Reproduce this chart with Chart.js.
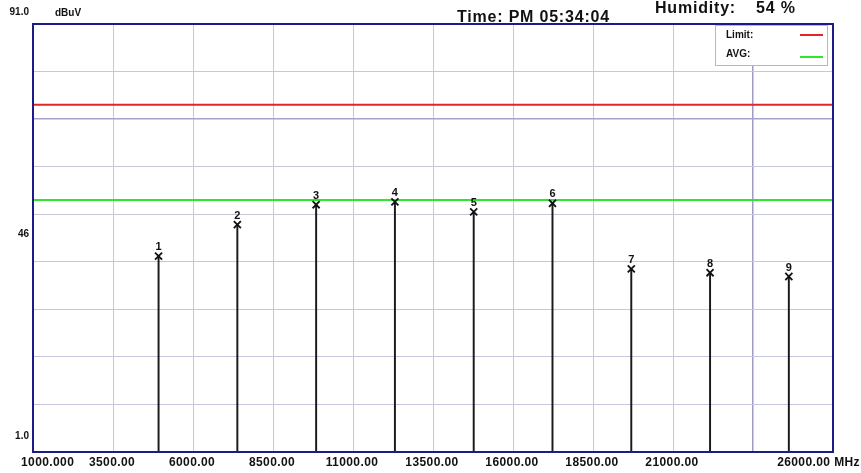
<!DOCTYPE html>
<html>
<head>
<meta charset="utf-8">
<script src="https://cdn.jsdelivr.net/npm/chart.js@4/dist/chart.umd.min.js"></script>
<style>
  html, body { margin: 0; padding: 0; background: #ffffff; }
  canvas { display: block; }
</style>
</head>
<body>
<canvas id="scan" width="861" height="473"></canvas>
<script>
// Emission scan: harmonic peaks, level in dBuV versus frequency in MHz
const markerNumbers = ['1', '2', '3', '4', '5', '6', '7', '8', '9'];
const markerFreqs = [4924, 7386, 9848, 12310, 14772, 17234, 19696, 22158, 24620];
const markerLevels = [42.2, 48.8, 53.0, 53.6, 51.5, 53.3, 39.5, 38.7, 37.9];

const limitLevel = 74;
const avgLevel = 54;

const freqMin = 1000;
const freqMax = 26000;
const freqStep = 2500;
const levelMin = 1;
const levelMax = 91;
const levelStep = 10;

const xTickValues = [1000, 3500, 6000, 8500, 11000, 13500, 16000, 18500, 21000, 23500, 26000];
const xTickLabels = ['1000.000', '3500.00', '6000.00', '8500.00', '11000.00', '13500.00',
                     '16000.00', '18500.00', '21000.00', '', '26000.00 MHz'];
const yTickValues = [91, 46, 1];
const yTickLabels = ['91.0', '46', '1.0'];

const unitLabel = 'dBuV';
const timeText = 'Time: PM 05:34:04';
const humidityLabel = 'Humidity:';
const humidityValue = '54 %';

const FONT = '"Liberation Sans", Arial, sans-serif';

const overlay = {
  id: 'scanOverlay',
  afterDatasetsDraw(chart) {
    const ctx = chart.ctx;
    const a = chart.chartArea;
    const xs = chart.scales.x;
    const ys = chart.scales.y;
    ctx.save();

    // plot frame
    ctx.strokeStyle = '#1c1c86';
    ctx.lineWidth = 2;
    ctx.strokeRect(a.left, a.top, a.right - a.left, a.bottom - a.top);

    // marker numbers above each peak
    const meta = chart.getDatasetMeta(3);
    ctx.fillStyle = '#111111';
    ctx.font = 'bold 11px ' + FONT;
    ctx.textAlign = 'center';
    ctx.textBaseline = 'alphabetic';
    meta.data.forEach((pt, i) => {
      ctx.fillText(markerNumbers[i], pt.x, pt.y - 6);
    });

    // legend box in the upper right corner
    const lx = a.right - 118, ly = a.top + 1, lw = 112, lh = 40;
    ctx.fillStyle = '#ffffff';
    ctx.fillRect(lx, ly, lw, lh);
    ctx.strokeStyle = '#b4b4d4';
    ctx.lineWidth = 1;
    ctx.strokeRect(lx + 0.5, ly + 0.5, lw, lh);
    ctx.font = 'bold 10px ' + FONT;
    ctx.textAlign = 'left';
    ctx.textBaseline = 'middle';
    const legendRows = [chart.data.datasets[0], chart.data.datasets[1]];
    legendRows.forEach((ds, i) => {
      const ry = ly + 10 + i * 19;
      ctx.fillStyle = '#111111';
      ctx.fillText(ds.label, lx + 11, ry);
      ctx.strokeStyle = ds.borderColor;
      ctx.lineWidth = 2;
      ctx.beginPath();
      ctx.moveTo(lx + 85, ry + i * 3);
      ctx.lineTo(lx + 108, ry + i * 3);
      ctx.stroke();
    });

    // frequency labels under the axis
    ctx.fillStyle = '#111111';
    ctx.font = 'bold 12px ' + FONT;
    ctx.letterSpacing = '0.4px';
    ctx.textBaseline = 'middle';
    xTickValues.forEach((v, i) => {
      const label = xTickLabels[i];
      if (!label) return;
      let px = xs.getPixelForValue(v);
      if (i === 0) {
        ctx.textAlign = 'left';
        px -= 12;
      } else if (i === xTickValues.length - 1) {
        ctx.textAlign = 'right';
        px = chart.width - 1;
      } else {
        ctx.textAlign = 'center';
        px -= 1;
      }
      ctx.fillText(label, px, a.bottom + 11);
    });

    // level labels on the left
    ctx.font = 'bold 10px ' + FONT;
    ctx.letterSpacing = '0px';
    ctx.textAlign = 'right';
    const yOffsets = [-12, -4, -16];
    yTickValues.forEach((v, i) => {
      ctx.fillText(yTickLabels[i], 29, ys.getPixelForValue(v) + yOffsets[i]);
    });
    ctx.textAlign = 'left';
    ctx.fillText(unitLabel, 55, 13);

    // header readouts
    ctx.font = 'bold 16px ' + FONT;
    ctx.letterSpacing = '0.8px';
    ctx.textBaseline = 'alphabetic';
    ctx.fillText(timeText, 457, 22);
    ctx.fillText(humidityLabel, 655, 13);
    ctx.fillText(humidityValue, 756, 13);

    ctx.restore();
  }
};

const stemData = markerFreqs.map((f, i) => ({ x: f, y: [levelMin, markerLevels[i]] }));
const peakData = markerFreqs.map((f, i) => ({ x: f, y: markerLevels[i] }));

new Chart(document.getElementById('scan'), {
  type: 'scatter',
  data: {
    datasets: [
      {
        type: 'line',
        label: 'Limit:',
        data: [{ x: freqMin, y: limitLevel }, { x: freqMax, y: limitLevel }],
        borderColor: '#e0262b',
        borderWidth: 2,
        pointRadius: 0,
        order: 3
      },
      {
        type: 'line',
        label: 'AVG:',
        data: [{ x: freqMin, y: avgLevel }, { x: freqMax, y: avgLevel }],
        borderColor: '#2fe62f',
        borderWidth: 2,
        pointRadius: 0,
        order: 2
      },
      {
        type: 'bar',
        label: 'Peak',
        data: stemData,
        backgroundColor: '#1a1a1a',
        borderWidth: 0,
        barThickness: 1.3,
        grouped: false,
        order: 1
      },
      {
        type: 'scatter',
        label: 'Marker',
        data: peakData,
        pointStyle: 'crossRot',
        pointRadius: 5,
        borderColor: '#111111',
        borderWidth: 1.8,
        order: 0
      }
    ]
  },
  options: {
    responsive: false,
    animation: false,
    devicePixelRatio: 1,
    layout: { padding: { left: 33, top: 24, right: 28, bottom: 21 } },
    plugins: {
      legend: { display: false },
      tooltip: { enabled: false },
      title: { display: false }
    },
    scales: {
      x: {
        type: 'linear',
        offset: false,
        min: freqMin,
        max: freqMax,
        ticks: { display: false, stepSize: freqStep },
        grid: {
          offset: false,
          drawTicks: false,
          color: (c) => c.tick && c.tick.value === 23500 ? '#9c9cc6' : '#c6c6dc',
          lineWidth: (c) => c.tick && c.tick.value === 23500 ? 1.5 : 1
        },
        border: { display: false }
      },
      y: {
        type: 'linear',
        min: levelMin,
        max: levelMax,
        ticks: { display: false, stepSize: levelStep },
        grid: {
          drawTicks: false,
          color: (c) => c.tick && c.tick.value === 71 ? '#a4a4cc' : '#c6c6dc',
          lineWidth: (c) => c.tick && c.tick.value === 71 ? 1.5 : 1
        },
        border: { display: false }
      }
    }
  },
  plugins: [overlay]
});
</script>
</body>
</html>
